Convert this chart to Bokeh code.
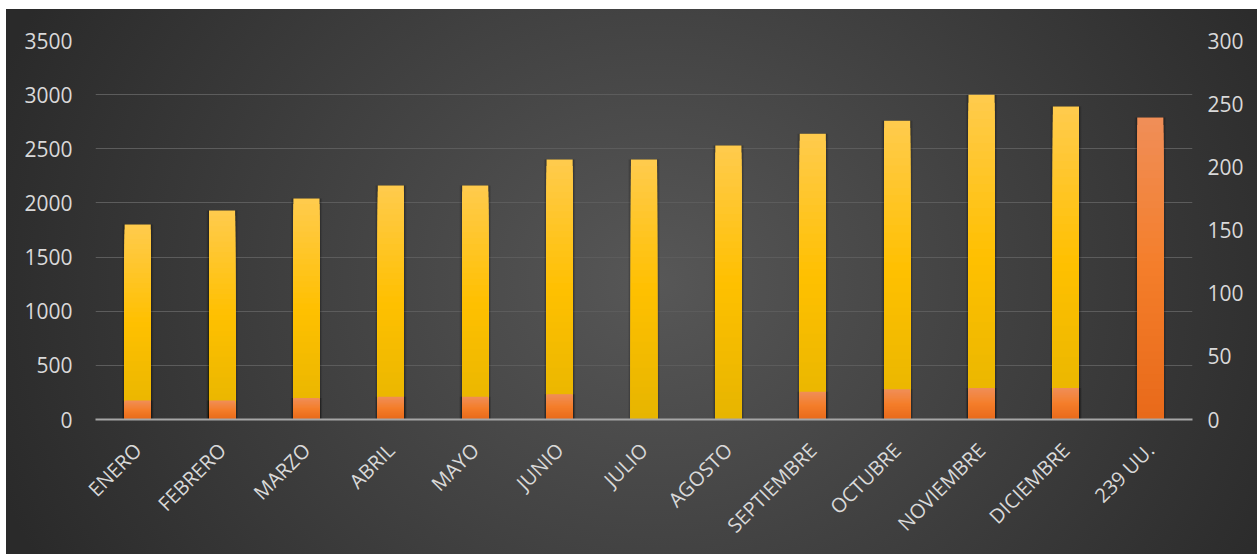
import math
from bokeh.plotting import figure
from bokeh.models import Range1d, LinearAxis, FixedTicker, InlineStyleSheet, ColumnDataSource
from bokeh.embed import file_html
from bokeh.resources import INLINE

categories = ["ENERO", "FEBRERO", "MARZO", "ABRIL", "MAYO", "JUNIO", "JULIO",
              "AGOSTO", "SEPTIEMBRE", "OCTUBRE", "NOVIEMBRE", "DICIEMBRE", "239 UU."]
yellow_values = [1800, 1930, 2040, 2160, 2160, 2400, 2400, 2530, 2640, 2760, 3000, 2890, 0]
orange_values = [15, 15, 17, 18, 18, 20, 0, 0, 22, 24, 25, 25, 239]
left_ticks = [0, 500, 1000, 1500, 2000, 2500, 3000, 3500]
right_ticks = [0, 50, 100, 150, 200, 250, 300]

BAR_W = 0.31
N_SLICES = 40


def hex_to_rgb(h):
    h = h.lstrip("#")
    return tuple(int(h[i:i + 2], 16) for i in (0, 2, 4))


def grad_color(stops, t):
    for (t0, c0), (t1, c1) in zip(stops, stops[1:]):
        if t0 <= t <= t1:
            f = 0 if t1 == t0 else (t - t0) / (t1 - t0)
            a, b = hex_to_rgb(c0), hex_to_rgb(c1)
            return "#%02x%02x%02x" % tuple(round(a[i] + (b[i] - a[i]) * f) for i in range(3))
    return stops[-1][1]


yellow_stops = [(0.0, "#E6B500"), (0.5, "#FFC000"), (1.0, "#FFCB4E")]
orange_stops = [(0.0, "#E8691A"), (0.5, "#F47E2A"), (1.0, "#F08E58")]


def layers(values, stops):
    # tallest layer first, each shorter layer painted over it from the baseline
    xs, tops, colors = [], [], []
    for k in reversed(range(N_SLICES)):
        for cat, v in zip(categories, values):
            if v <= 0:
                continue
            xs.append(cat)
            tops.append(v * (k + 1) / N_SLICES)
            colors.append(grad_color(stops, (k + 0.5) / N_SLICES))
    return ColumnDataSource(dict(x=xs, top=tops, color=colors))


p = figure(x_range=categories, y_range=Range1d(0, 3500), width=1251, height=545,
           output_backend="svg", toolbar_location=None,
           min_border_left=89, min_border_right=65, min_border_top=31, min_border_bottom=135)
p.extra_y_ranges = {"right": Range1d(0, 300)}

p.background_fill_alpha = 0
p.border_fill_alpha = 0
p.outline_line_color = None
p.stylesheets = [InlineStyleSheet(css=":host { background: radial-gradient(ellipse 700px 600px at 52% 50%, #575757 0%, #2a2a2a 100%); margin: 9px 0 0 6px; }")]

# grid
p.xgrid.grid_line_color = None
p.ygrid.grid_line_color = "#5c5c5c"
p.ygrid.grid_line_width = 1

# shadows
ycat = ColumnDataSource(dict(x=categories, top=yellow_values, otop=orange_values))
for w, a in [(0.06, 0.10), (0.035, 0.12), (0.015, 0.15)]:
    p.vbar(x="x", top="top", bottom=0, width=BAR_W + w, source=ycat,
           fill_color="black", fill_alpha=a, line_color=None)
    p.vbar(x="x", top="otop", bottom=0, width=BAR_W + w, source=ycat, y_range_name="right",
           fill_color="black", fill_alpha=a, line_color=None)

p.vbar(x="x", bottom=0, top="top", width=BAR_W, source=layers(yellow_values, yellow_stops),
       fill_color="color", line_color=None)
p.vbar(x="x", bottom=0, top="top", width=BAR_W, source=layers(orange_values, orange_stops),
       fill_color="color", line_color=None, y_range_name="right")

label_color = "#d9d9d9"
font = "Open Sans"

# left axis
la = p.yaxis[0]
la.ticker = FixedTicker(ticks=left_ticks)
la.axis_line_color = None
la.major_tick_line_color = None
la.minor_tick_line_color = None
la.major_label_text_color = label_color
la.major_label_text_font = font
la.major_label_text_font_size = "21px"
la.major_label_standoff = 17

# right axis
ra = LinearAxis(y_range_name="right", ticker=FixedTicker(ticks=right_ticks))
ra.axis_line_color = None
ra.major_tick_line_color = None
ra.minor_tick_line_color = None
ra.major_label_text_color = label_color
ra.major_label_text_font = font
ra.major_label_text_font_size = "21px"
ra.major_label_standoff = 9
p.add_layout(ra, "right")

# bottom axis
xa = p.xaxis[0]
xa.axis_line_color = "#a6a6a6"
xa.axis_line_width = 2
xa.major_tick_line_color = None
xa.minor_tick_line_color = None
xa.major_label_text_color = label_color
xa.major_label_text_font = font
xa.major_label_text_font_size = "20px"
xa.major_label_orientation = math.pi / 4
xa.major_label_standoff = 21

open("out.html", "w").write(file_html(p, INLINE))
